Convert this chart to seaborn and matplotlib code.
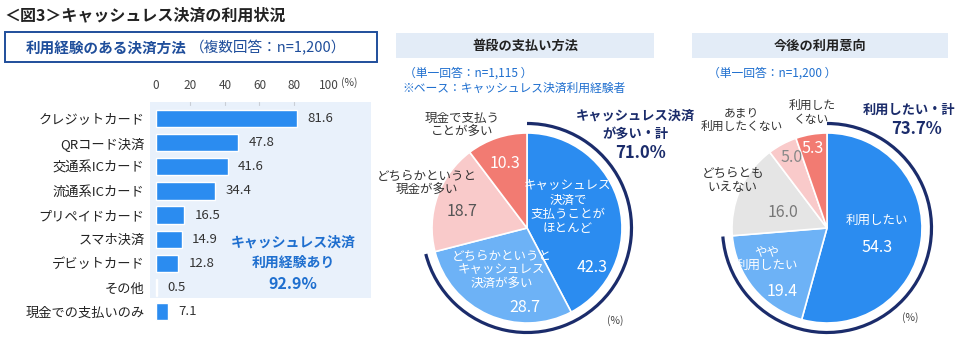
import numpy as np
import pandas as pd
import matplotlib
matplotlib.use("Agg")
import matplotlib.pyplot as plt
from matplotlib.patches import Rectangle, Arc
import seaborn as sns

# ---- data ----
methods = ["クレジットカード", "QRコード決済", "交通系ICカード", "流通系ICカード",
           "プリペイドカード", "スマホ決済", "デビットカード", "その他", "現金での支払いのみ"]
method_pct = [81.6, 47.8, 41.6, 34.4, 16.5, 14.9, 12.8, 0.5, 7.1]
axis_ticks = [0, 20, 40, 60, 80, 100]
cashless_total = 92.9

usual_labels = ["キャッシュレス\n決済で\n支払うことが\nほとんど",
                "どちらかというと\nキャッシュレス\n決済が多い",
                "どちらかというと\n現金が多い",
                "現金で支払う\nことが多い"]
usual_pct = [42.3, 28.7, 18.7, 10.3]
usual_total = 71.0

intent_labels = ["利用したい", "やや\n利用したい", "どちらとも\nいえない",
                 "あまり\n利用したくない", "利用した\nくない"]
intent_pct = [54.3, 19.4, 16.0, 5.0, 5.3]
intent_total = 73.7

# ---- style ----
sns.set_theme(style="white")
plt.rcParams["font.family"] = ["Noto Sans CJK JP", "DejaVu Sans"]

BLUE = "#2B8CF0"
LIGHT_BLUE = "#6DB2F6"
PINK = "#F9CACA"
SALMON = "#F27B72"
GRAY = "#E5E5E5"
NAVY = "#1B2C6B"
TEXT_BLUE = "#1F6FCF"
DARK = "#333333"

W, H = 960, 341
fig = plt.figure(figsize=(W / 100, H / 100), dpi=100)


def fx(px):
    return px / W


def fy(py):
    return 1 - py / H


# ---- headings ----
fig.text(fx(4), fy(15), "＜図3＞キャッシュレス決済の利用状況", fontsize=11.5,
         fontweight="bold", color="#222222", va="center", ha="left")

fig.patches.append(Rectangle((fx(5), fy(62)), fx(372), 30 / H, transform=fig.transFigure,
                             facecolor="white", edgecolor="#1F4E9B", linewidth=1.4))
fig.text(fx(26), fy(47.5), "利用経験のある決済方法", fontsize=10.5, fontweight="bold",
         color="#1F4E9B", va="center", ha="left")
fig.text(fx(190), fy(47.5), "（複数回答：n=1,200）", fontsize=10.5,
         color="#1F4E9B", va="center", ha="left")

for x0, x1, title in [(396, 654, "普段の支払い方法"), (692, 948, "今後の利用意向")]:
    fig.patches.append(Rectangle((fx(x0), fy(58)), fx(x1 - x0), 25 / H,
                                 transform=fig.transFigure, facecolor="#E3ECF7",
                                 edgecolor="none"))
    fig.text(fx((x0 + x1) / 2), fy(46), title, fontsize=9.5, fontweight="bold",
             color="#222222", ha="center", va="center")

fig.text(fx(404), fy(73), "（単一回答：n=1,115 ）", fontsize=8.5, color=TEXT_BLUE,
         ha="left", va="center")
fig.text(fx(402), fy(88), "※ベース：キャッシュレス決済利用経験者", fontsize=8.5,
         color=TEXT_BLUE, ha="left", va="center")
fig.text(fx(708), fy(73), "（単一回答：n=1,200 ）", fontsize=8.5, color=TEXT_BLUE,
         ha="left", va="center")

# ---- horizontal bar chart ----
px_per_unit = 1.724
zero_px = 156
ax_left, ax_right = 150, 371
ax_top, ax_bot = 101.7, 330
row_px = 24.15
first_row = 118.5

ax = fig.add_axes([fx(ax_left), fy(ax_bot), fx(ax_right - ax_left), (ax_bot - ax_top) / H])
df = pd.DataFrame({"method": methods, "pct": method_pct})
xmin = (ax_left - zero_px) / px_per_unit
xmax = (ax_right - zero_px) / px_per_unit
ytop = -(first_row - ax_top) / row_px
ybot = (ax_bot - first_row) / row_px

ax.add_patch(Rectangle((xmin, ytop), xmax - xmin, (298 - ax_top) / row_px,
                       facecolor="#E9F1FB", edgecolor="none", zorder=0))
for t in axis_ticks[1:-1]:
    ax.plot([t, t], [ytop, ytop + 0.12], color="#C9CED6", lw=0.8, zorder=1)

sns.barplot(data=df, x="pct", y="method", orient="h", color=BLUE, width=0.72,
            saturation=1, ax=ax, zorder=2)
ax.set_xlim(xmin, xmax)
ax.set_ylim(ybot, ytop)
ax.set_facecolor("none")
for s in ax.spines.values():
    s.set_visible(False)
ax.xaxis.tick_top()
ax.set_xticks(axis_ticks)
ax.set_xticklabels([str(t) for t in axis_ticks], fontsize=8.5, color="#444444")
ax.tick_params(axis="x", length=0, pad=7)
ax.tick_params(axis="y", length=0, pad=4, labelsize=9.5, labelcolor="#222222")
ax.set_xlabel("")
ax.set_ylabel("")
ax.grid(False)
for i, v in enumerate(method_pct):
    ax.text(v + 6, i, f"{v}", va="center", ha="left", fontsize=9.5, color=DARK)
ax.text(107.5, ytop - 0.78, "(%)", fontsize=7.5, color="#444444", ha="left", va="center")

fig.text(fx(293), fy(243), "キャッシュレス決済", fontsize=10, fontweight="bold",
         color=TEXT_BLUE, ha="center", va="center")
fig.text(fx(293), fy(263), "利用経験あり", fontsize=10, fontweight="bold",
         color=TEXT_BLUE, ha="center", va="center")
fig.text(fx(293), fy(284), f"{cashless_total}%", fontsize=11.5, fontweight="bold",
         color=TEXT_BLUE, ha="center", va="center")

# ---- pie charts ----
R = 95


def pie_axes(cx, cy):
    half = 1.45 * R
    a = fig.add_axes([fx(cx - half), fy(cy + half), 2 * half / W, 2 * half / H])
    a.axis("off")
    return a


def draw_pie(a, values, colors, arc_share):
    a.pie(values, colors=colors, startangle=90, counterclock=False, radius=1,
          wedgeprops=dict(edgecolor="white", linewidth=1.2))
    a.set_xlim(-1.45, 1.45)
    a.set_ylim(-1.45, 1.45)
    a.set_aspect("equal")
    span = 360 * arc_share / 100
    a.add_patch(Arc((0, 0), 2.2, 2.2, theta1=90 - span, theta2=90,
                    color=NAVY, lw=2.3))


# pie 1
ax1 = pie_axes(527, 228)
draw_pie(ax1, usual_pct, [BLUE, LIGHT_BLUE, PINK, SALMON], usual_pct[0] + usual_pct[1])
txt1 = [
    (usual_labels[0], 0.43, 0.22, "white"),
    (usual_labels[1], -0.27, -0.45, "white"),
    (usual_labels[2], -1.05, 0.47, DARK),
    (usual_labels[3], -0.68, 1.08, DARK),
]
num1 = [(0.69, -0.42, "white"), (-0.02, -0.84, "white"), (-0.68, 0.17, "#555555"),
        (-0.23, 0.68, "white")]
for lab, x, y, c in txt1:
    ax1.text(x, y, lab, ha="center", va="center", fontsize=9, color=c, linespacing=1.1)
for v, (x, y, c) in zip(usual_pct, num1):
    ax1.text(x, y, f"{v}", ha="center", va="center", fontsize=11.5, color=c)

fig.text(fx(635), fy(116), "キャッシュレス決済", fontsize=9.5, fontweight="bold",
         color=NAVY, ha="center", va="center")
fig.text(fx(635), fy(134), "が多い・計", fontsize=9.5, fontweight="bold",
         color=NAVY, ha="center", va="center")
fig.text(fx(640), fy(153), f"{usual_total:.1f}%", fontsize=12, fontweight="bold",
         color=NAVY, ha="center", va="center")
fig.text(fx(615), fy(321), "(%)", fontsize=7.5, color="#444444", ha="center", va="center")

# pie 2
ax2 = pie_axes(827, 228)
draw_pie(ax2, intent_pct, [BLUE, LIGHT_BLUE, GRAY, PINK, SALMON],
         intent_pct[0] + intent_pct[1])
txt2 = [
    (intent_labels[0], 0.53, 0.08, "white", 9),
    (intent_labels[1], -0.63, -0.32, "white", 9),
    (intent_labels[2], -0.99, 0.5, DARK, 9),
    (intent_labels[3], -0.9, 1.14, DARK, 8.5),
    (intent_labels[4], -0.16, 1.22, DARK, 8.5),
]
num2 = [(0.53, -0.2, "white"), (-0.47, -0.67, "white"), (-0.46, 0.16, "#777777"),
        (-0.37, 0.74, "#888888"), (-0.15, 0.84, "white")]
for lab, x, y, c, fs in txt2:
    ax2.text(x, y, lab, ha="center", va="center", fontsize=fs, color=c, linespacing=1.1)
for v, (x, y, c) in zip(intent_pct, num2):
    ax2.text(x, y, f"{v}", ha="center", va="center", fontsize=11.5, color=c)

fig.text(fx(909), fy(110), "利用したい・計", fontsize=9.5, fontweight="bold",
         color=NAVY, ha="center", va="center")
fig.text(fx(916), fy(129), f"{intent_total:.1f}%", fontsize=12, fontweight="bold",
         color=NAVY, ha="center", va="center")
fig.text(fx(910), fy(318), "(%)", fontsize=7.5, color="#444444", ha="center", va="center")

fig.savefig("out.png", dpi=100)
